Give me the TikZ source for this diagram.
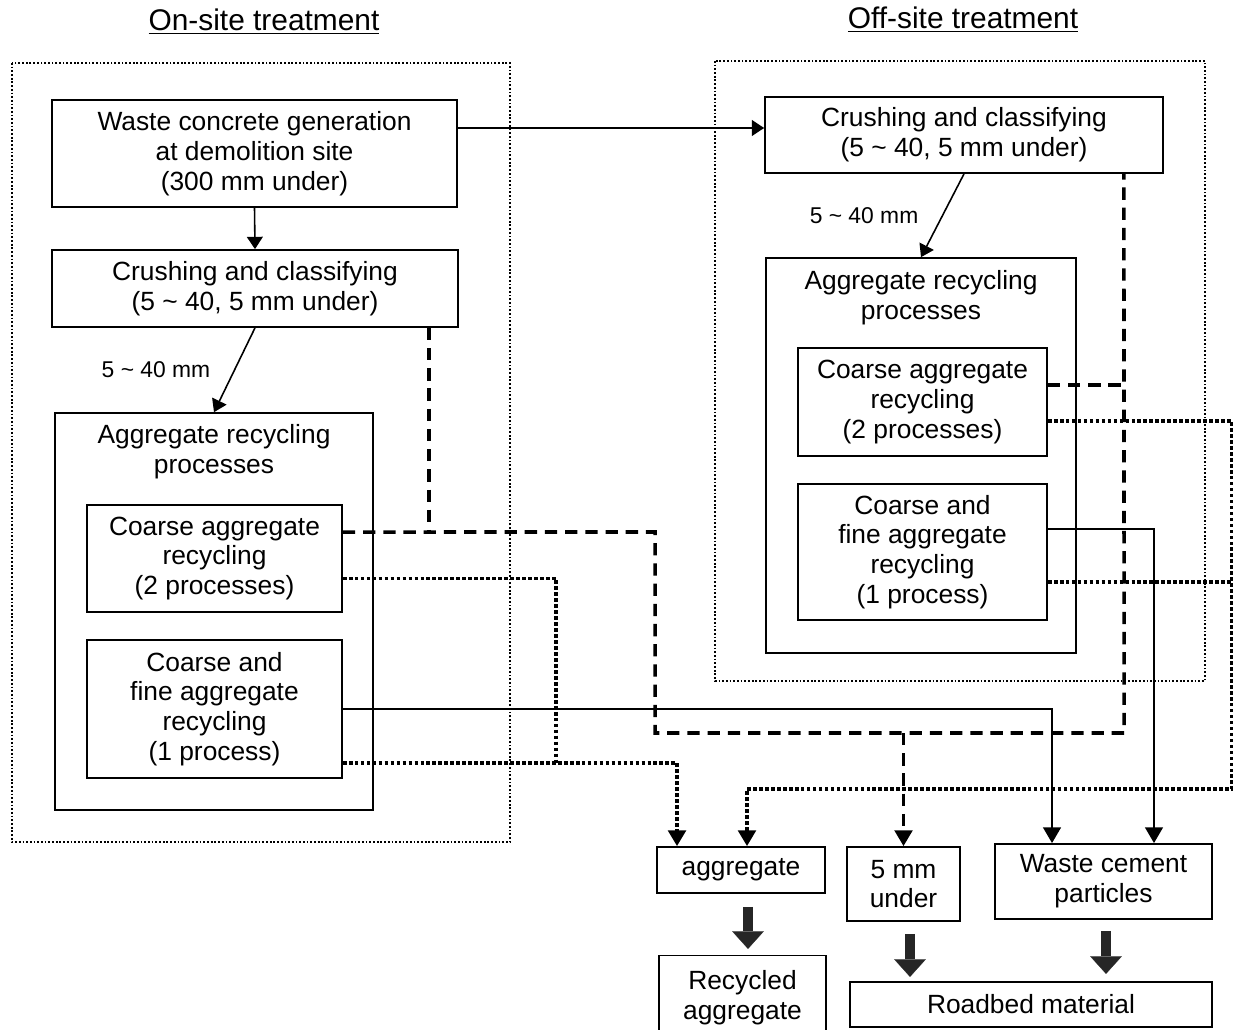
\documentclass[tikz,border=0pt]{standalone}
\usepackage{fontspec}
\setmainfont{Liberation Sans}
\usetikzlibrary{arrows.meta}

\newcommand{\procfont}{\fontsize{15}{17}\selectfont}
\newcommand{\sizefont}{\fontsize{13}{15}\selectfont}
\newcommand{\headfont}{\fontsize{17}{20}\selectfont}

\tikzset{
  box/.style={draw, line width=1pt, align=center, inner sep=2pt, font=\procfont},
  region/.style={line width=1pt, dash pattern=on 1pt off 1.1pt},
  flow/.style={line width=0.9pt, -{Triangle[length=7pt,width=9pt]}},
  tip/.style={-{Triangle[length=9pt,width=10pt]}},
  solidline/.style={line width=1.6pt},
  dashline/.style={line width=2pt, dash pattern=on 7pt off 4.5pt},
  dotline/.style={line width=2.1pt, dash pattern=on 2.1pt off 1.3pt},
  bigarrow/.style={line width=6pt, black!85, -{Triangle[length=10pt,width=18pt,line width=0.1pt]}}
}

\begin{document}
\begin{tikzpicture}[x=0.02cm, y=-0.02cm]
                \useasboundingbox (0,0) rectangle (1233,1030);
                \node[font=\headfont] (onsite) at (264,22) {\underline{On-site treatment}};
                \node[font=\headfont] (offsite) at (963,20) {\underline{Off-site treatment}};
                \draw[region] (12,63) rectangle (510,842); % on-site
                \draw[region] (715,61) rectangle (1205,681); % off-site
                % on-site boxes
                \node[box, minimum width=8.1cm, minimum height=2.14cm] (waste) at (254.5,153.5) {Waste concrete generation\\at demolition site\\(300 mm under)};
                \node[box, minimum width=8.12cm, minimum height=1.54cm] (crush1) at (255,288.5) {Crushing and classifying\\(5 \textasciitilde{} 40, 5 mm under)};
                \node[box, minimum width=6.36cm, minimum height=7.94cm] (agg1) at (214,611.5) {};
                \node[font=\procfont, align=center] (agg1t) at (214,452) {Aggregate recycling\\processes};
                \node[box, minimum width=5.1cm, minimum height=2.14cm] (coarse1) at (214.5,558.5) {Coarse aggregate\\recycling\\(2 processes)};
                \node[box, minimum width=5.1cm, minimum height=2.76cm] (fine1) at (214.5,709) {Coarse and\\fine aggregate\\recycling\\(1 process)};
                % off-site boxes
                \node[box, minimum width=7.96cm, minimum height=1.52cm] (crush2) at (964,135) {Crushing and classifying\\(5 \textasciitilde{} 40, 5 mm under)};
                \node[box, minimum width=6.2cm, minimum height=7.9cm] (agg2) at (921,455.5) {};
                \node[font=\procfont, align=center] (agg2t) at (921,298) {Aggregate recycling\\processes};
                \node[box, minimum width=4.98cm, minimum height=2.16cm] (coarse2) at (922.5,402) {Coarse aggregate\\recycling\\(2 processes)};
                \node[box, minimum width=4.98cm, minimum height=2.72cm] (fine2) at (922.5,552) {Coarse and\\fine aggregate\\recycling\\(1 process)};
                % products
                \node[box, minimum width=3.36cm, minimum height=0.92cm] (aggr) at (741,870) {aggregate};
                \node[box, minimum width=2.26cm, minimum height=1.48cm] (under) at (903.5,884) {5 mm\\under};
                \node[box, minimum width=4.34cm, minimum height=1.5cm] (cement) at (1103.5,881.5) {Waste cement\\particles};
                \node[box, minimum width=3.34cm, minimum height=1.7cm] (recycled) at (742.5,998) {Recycled\\aggregate};
                \node[box, minimum width=7.24cm, minimum height=0.9cm] (roadbed) at (1031,1004.5) {Roadbed material};
                % main flow
                \draw[flow] (waste.south) -- (crush1.north);
                \draw[flow] ([yshift=0.51cm]waste.east) -- ([yshift=0.51cm]waste.east -| crush2.west);
                \draw[flow] (crush1.south) -- node[left=10pt, font=\sizefont] (size1) {5 \textasciitilde{} 40 mm} (agg1.north);
                \draw[flow] (crush2.south) -- node[left=10pt, font=\sizefont] (size2) {5 \textasciitilde{} 40 mm} (agg2.north);
                % 5 mm under (dashed)
                \coordinate (dA) at (655,532);
                \coordinate (dB) at (655,733);
                \coordinate (dC) at (1124,733);
                \coordinate (c1dash) at ([xshift=-0.6cm]crush1.south east);
                \coordinate (c2dash) at ([yshift=0.34cm]coarse2.east);
                \draw[dashline] ([yshift=0.53cm]coarse1.east) -- (dA) -- (dB) -- (dC) -- ([xshift=3.2cm]crush2.south);
                \draw[dashline] (c1dash) -- (c1dash |- dA);
                \draw[dashline] (c2dash) -- (c2dash -| dC);
                \draw[dashline, tip] (under.north |- dB) -- (under.north);
                % aggregate (dotted)
                \coordinate (c1dot) at ([yshift=-0.4cm]coarse1.east);
                \coordinate (f1dot) at ([yshift=-1.08cm]fine1.east);
                \coordinate (c2dot) at ([yshift=-0.38cm]coarse2.east);
                \coordinate (f2dot) at ([yshift=-0.6cm]fine2.east);
                \coordinate (dL) at (556,763);
                \coordinate (dR) at (1232,789);
                \coordinate (aggL) at ([xshift=-1.28cm]aggr.north);
                \coordinate (aggR) at ([xshift=0.12cm]aggr.north);
                \draw[dotline] (c1dot) -- (c1dot -| dL) -- (dL);
                \draw[dotline, tip] (f1dot) -- (f1dot -| aggL) -- (aggL);
                \draw[dotline, tip] (c2dot) -- (c2dot -| dR) -- (dR) -- (dR -| aggR) -- (aggR);
                \draw[dotline] (f2dot) -- (f2dot -| dR);
                % waste cement particles (solid)
                \coordinate (cemL) at ([xshift=-1.03cm]cement.north);
                \coordinate (cemR) at ([xshift=1.01cm]cement.north);
                \coordinate (f2sol) at ([yshift=0.46cm]fine2.east);
                \draw[solidline, tip] (fine1.east) -- (fine1.east -| cemL) -- (cemL);
                \draw[solidline, tip] (f2sol) -- (f2sol -| cemR) -- (cemR);
                % use
                \coordinate (b1) at ([xshift=0.14cm, yshift=-0.26cm]aggr.south);
                \coordinate (b2) at ([xshift=0.13cm, yshift=-0.24cm]under.south);
                \coordinate (b3) at ([xshift=0.05cm, yshift=-0.22cm]cement.south);
                \draw[bigarrow] (b1) -- ++(0,42);
                \draw[bigarrow] (b2) -- ++(0,43);
                \draw[bigarrow] (b3) -- ++(0,43);
            \end{tikzpicture}
\end{document}
